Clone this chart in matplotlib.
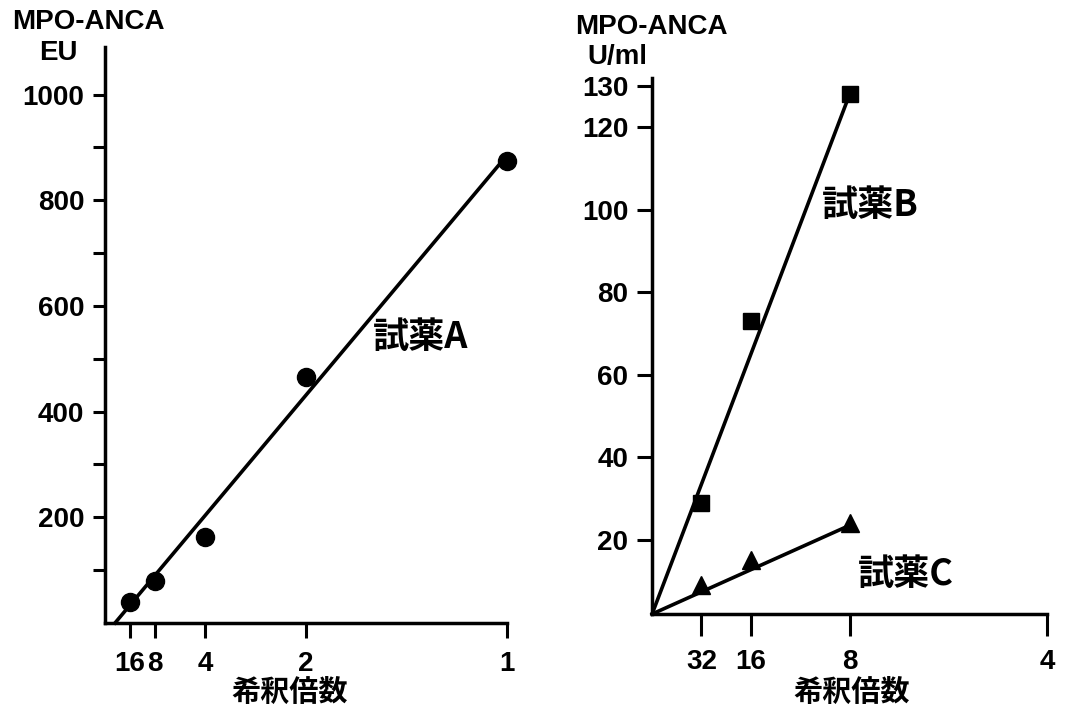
import matplotlib.pyplot as plt
from matplotlib.ticker import FixedLocator

plt.rcParams['font.family'] = ['Liberation Sans', 'Noto Sans CJK JP', 'DejaVu Sans']
plt.rcParams['font.weight'] = 'bold'

# left panel: reagent A (EU)
dil_a = [16, 8, 4, 2, 1]
mpo_a = [40, 80, 162, 465, 875]
fit_a_conc = [0.025, 1.0]
fit_a_val = [0, 885]
ticks_a_major = [200, 400, 600, 800, 1000]
ticks_a_minor = [100, 300, 500, 700, 900]

# right panel: reagents B and C (U/ml)
dil_bc = [32, 16, 8]
mpo_b = [29, 73, 128]
mpo_c = [9, 15, 24]
fit_b_conc = [0, 1 / 8]
fit_b_val = [2, 128]
fit_c_conc = [0, 1 / 8]
fit_c_val = [2, 23.5]
ticks_bc = [20, 40, 60, 80, 100, 120, 130]
xticks_bc = [32, 16, 8, 4]

cjk = ['Noto Sans CJK JP', 'DejaVu Sans']


def style_axes(ax, ylen, xlen):
    for s in ['top', 'right']:
        ax.spines[s].set_visible(False)
    for s in ['left', 'bottom']:
        ax.spines[s].set_linewidth(2.5)
    ax.tick_params(axis='y', which='both', length=ylen, width=2.2, labelsize=20, pad=6)
    ax.tick_params(axis='x', which='both', length=xlen, width=2.2, labelsize=20, pad=9)


fig = plt.figure(figsize=(10.69, 7.11), dpi=100)

ax1 = fig.add_axes([0.0982, 0.1238, 0.376, 0.810])
conc_a = [1 / d for d in dil_a]
ax1.plot(fit_a_conc, fit_a_val, color='black', lw=2.6, clip_on=False)
ax1.plot(conc_a, mpo_a, 'o', color='black', ms=13, clip_on=False)
ax1.set_xlim(0, 1)
ax1.set_ylim(0, 1090)
ax1.set_xticks(conc_a)
ax1.set_xticklabels([str(d) for d in dil_a])
ax1.set_yticks(ticks_a_major)
ax1.yaxis.set_minor_locator(FixedLocator(ticks_a_minor))
style_axes(ax1, 9, 11)
ax1.text(0.667, 540, '試薬A', fontsize=26, family=cjk, fontweight='bold', va='center')
fig.text(88 / 1069, 1 - 22 / 711, 'MPO-ANCA', fontsize=20, ha='center', va='center')
fig.text(58 / 1069, 1 - 53 / 711, 'EU', fontsize=20, ha='center', va='center')
fig.text(290 / 1069, 1 - 692 / 711, '希釈倍数', fontsize=21, family=cjk,
         fontweight='bold', ha='center', va='center')

ax2 = fig.add_axes([0.610, 0.1364, 0.3695, 0.754])
conc_bc = [1 / d for d in dil_bc]
ax2.plot(fit_b_conc, fit_b_val, color='black', lw=2.6, clip_on=False)
ax2.plot(fit_c_conc, fit_c_val, color='black', lw=2.6, clip_on=False)
ax2.plot(conc_bc, mpo_b, 's', color='black', ms=11.5, clip_on=False)
ax2.plot(conc_bc, mpo_c, '^', color='black', ms=12.5, clip_on=False)
ax2.set_xlim(0, 0.25)
ax2.set_ylim(2, 132)
ax2.set_xticks([1 / d for d in xticks_bc])
ax2.set_xticklabels([str(d) for d in xticks_bc])
ax2.set_yticks(ticks_bc)
style_axes(ax2, 11, 16)
ax2.text(0.1076, 101, '試薬B', fontsize=26, family=cjk, fontweight='bold', va='center')
ax2.text(0.130, 11.7, '試薬C', fontsize=26, family=cjk, fontweight='bold', va='center')
fig.text(651 / 1069, 1 - 27 / 711, 'MPO-ANCA', fontsize=20, ha='center', va='center')
fig.text(617 / 1069, 1 - 57 / 711, 'U/ml', fontsize=20, ha='center', va='center')
fig.text(852 / 1069, 1 - 692 / 711, '希釈倍数', fontsize=21, family=cjk,
         fontweight='bold', ha='center', va='center')

fig.savefig('out.png', dpi=100)
